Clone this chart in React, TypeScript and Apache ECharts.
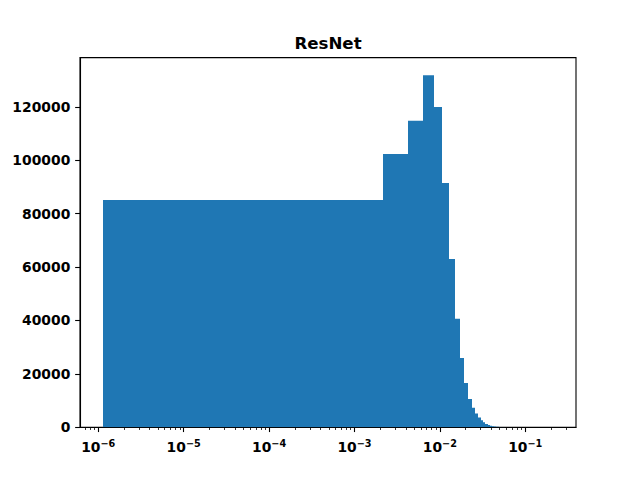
import React, { useEffect, useRef } from "react";
import * as echarts from "echarts";

const TITLE = "ResNet";
// histogram definition (100 equal-width bins in linear space)
const HIST_MIN = 1.13e-6;
const HIST_MAX = 0.2138;
const BIN_COUNT = 100;
const COUNTS = [
  85100, 102400, 114800, 131900, 120000, 91500, 63000, 40600, 25900, 16600,
  10600, 7300, 5100, 3600, 2600, 1850, 1200, 820, 560, 380,
  260, 180, 125, 90, 62, 45, 32, 23, 17, 12,
  9, 7, 5, 4, 3, 3, 2, 2, 1, 1,
  1, 0, 1, 0, 0, 1, 0, 0, 0, 1,
  0, 0, 0, 0, 0, 0, 0, 0, 0, 0,
  0, 0, 0, 0, 0, 0, 0, 0, 0, 0,
  0, 0, 0, 0, 0, 0, 0, 0, 0, 0,
  0, 0, 0, 0, 0, 0, 0, 0, 0, 0,
  0, 0, 0, 0, 0, 0, 0, 0, 0, 1,
];
const X_MAJOR_TICKS = [1e-6, 1e-5, 1e-4, 1e-3, 1e-2, 1e-1];
const X_MINOR_TICKS = [
  7e-7, 8e-7, 9e-7,
  2e-6, 3e-6, 4e-6, 5e-6, 6e-6, 7e-6, 8e-6, 9e-6,
  2e-5, 3e-5, 4e-5, 5e-5, 6e-5, 7e-5, 8e-5, 9e-5,
  2e-4, 3e-4, 4e-4, 5e-4, 6e-4, 7e-4, 8e-4, 9e-4,
  2e-3, 3e-3, 4e-3, 5e-3, 6e-3, 7e-3, 8e-3, 9e-3,
  2e-2, 3e-2, 4e-2, 5e-2, 6e-2, 7e-2, 8e-2, 9e-2,
  2e-1, 3e-1,
];
const Y_TICKS = [0, 20000, 40000, 60000, 80000, 100000, 120000];
const X_MIN = 6.11e-7;
const X_MAX = 0.3926;
const Y_MAX = 138500;

const FONT = "DejaVu Sans";
const BLUE = "#1f77b4";

export default function App() {
  const ref = useRef<HTMLDivElement>(null);
  useEffect(() => {
    if (!ref.current) return;
    const chart = echarts.init(ref.current, undefined, { renderer: "svg" });
    const binWidth = (HIST_MAX - HIST_MIN) / BIN_COUNT;
    const data = COUNTS.map((c, i) => [
      HIST_MIN + i * binWidth,
      HIST_MIN + (i + 1) * binWidth,
      c,
    ]);
    const supMinus = (v: number) => {
      const e = Math.round(Math.log10(v));
      return `{b|10}{s|${e < 0 ? "\u2212" + Math.abs(e) : e}}`;
    };
    chart.setOption({
      animation: false,
      backgroundColor: "#fff",
      title: {
        text: TITLE,
        left: 328,
        top: 35,
        textAlign: "center",
        padding: 0,
        textStyle: {
          fontFamily: FONT,
          fontWeight: "bold",
          fontSize: 16.67,
          color: "#000",
        },
      },
      grid: {
        left: 80,
        right: 64,
        top: 57.6,
        bottom: 52.8,
        show: true,
        borderColor: "#000",
        borderWidth: 1.1,
        backgroundColor: "transparent",
        containLabel: false,
      },
      xAxis: [
        {
          type: "log",
          logBase: 10,
          min: X_MIN,
          max: X_MAX,
          position: "bottom",
          splitLine: { show: false },
          axisLine: { show: true, onZero: false, lineStyle: { color: "#000", width: 1.1 } },
          axisTick: {
            show: true,
            length: 4.86,
            customValues: X_MAJOR_TICKS,
            lineStyle: { color: "#000", width: 1.1 },
          },
          axisLabel: {
            show: true,
            customValues: X_MAJOR_TICKS,
            margin: 9,
            formatter: (v: number) => supMinus(v),
            rich: {
              b: {
                fontFamily: FONT,
                fontWeight: "bold",
                fontSize: 13.89,
                color: "#000",
                verticalAlign: "bottom",
                lineHeight: 18,
              },
              s: {
                fontFamily: FONT,
                fontWeight: "bold",
                fontSize: 9.7,
                color: "#000",
                verticalAlign: "bottom",
                lineHeight: 18,
                padding: [0, 0, 6, 0],
              },
            },
          },
        },
        {
          type: "log",
          logBase: 10,
          min: X_MIN,
          max: X_MAX,
          position: "bottom",
          splitLine: { show: false },
          axisLine: { show: false },
          axisTick: {
            show: true,
            length: 2.78,
            customValues: X_MINOR_TICKS,
            lineStyle: { color: "#000", width: 0.8 },
          },
          axisLabel: { show: false },
        },
      ],
      yAxis: {
        type: "value",
        min: 0,
        max: Y_MAX,
        splitLine: { show: false },
        axisLine: { show: true, onZero: false, lineStyle: { color: "#000", width: 1.1 } },
        axisTick: {
          show: true,
          length: 4.86,
          customValues: Y_TICKS,
          lineStyle: { color: "#000", width: 1.1 },
        },
        axisLabel: {
          customValues: Y_TICKS,
          margin: 9.7,
          formatter: (v: number) => String(v),
          fontFamily: FONT,
          fontWeight: "bold",
          fontSize: 13.89,
          color: "#000",
        },
      },
      series: [
        {
          type: "custom",
          xAxisIndex: 0,
          yAxisIndex: 0,
          encode: { x: [0, 1], y: 2 },
          data,
          clip: true,
          renderItem: (params: any, api: any) => {
            const x0 = api.value(0);
            const x1 = api.value(1);
            const c = api.value(2);
            if (!c) return null;
            const p0 = api.coord([x0, c]);
            const p1 = api.coord([x1, 0]);
            const left = Math.round(p0[0]);
            const right = Math.round(p1[0]);
            if (right <= left) return null;
            return {
              type: "rect",
              shape: {
                x: left,
                y: p0[1],
                width: right - left,
                height: p1[1] - p0[1],
              },
              style: { fill: BLUE },
            };
          },
        },
      ],
    });
    return () => chart.dispose();
  }, []);
  return (
    <div
      ref={ref}
      style={{ position: "fixed", left: 0, top: 0, width: 640, height: 480 }}
    />
  );
}
